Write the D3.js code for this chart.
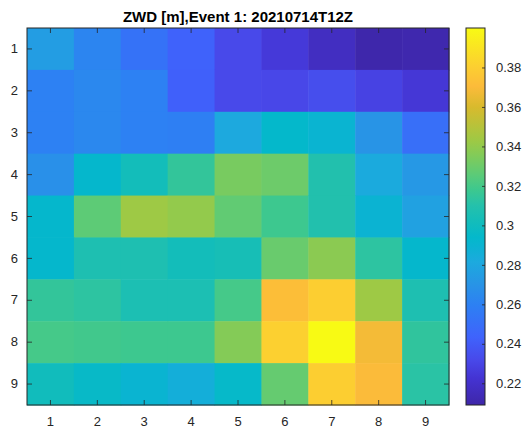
<!DOCTYPE html>
<html>
<head>
<meta charset="utf-8">
<script src="https://cdn.jsdelivr.net/npm/d3@7"></script>
<style>
  body { margin: 0; background: #fff; }
  text { font-family: "Liberation Sans", Arial, sans-serif; }
</style>
</head>
<body>
<svg id="chart" width="529" height="429"></svg>
<script>
// grid labels
const cols = [1, 2, 3, 4, 5, 6, 7, 8, 9];
const rows = [1, 2, 3, 4, 5, 6, 7, 8, 9];

// ZWD values, one array per row (row 1 at top)
const row1 = [0.275, 0.262, 0.252, 0.243, 0.232, 0.225, 0.217, 0.210, 0.211];
const row2 = [0.260, 0.264, 0.260, 0.242, 0.232, 0.231, 0.234, 0.229, 0.224];
const row3 = [0.260, 0.264, 0.260, 0.259, 0.281, 0.294, 0.290, 0.270, 0.250];
const row4 = [0.268, 0.293, 0.302, 0.315, 0.333, 0.330, 0.309, 0.282, 0.272];
const row5 = [0.293, 0.326, 0.343, 0.340, 0.327, 0.318, 0.309, 0.289, 0.277];
const row6 = [0.293, 0.307, 0.307, 0.302, 0.304, 0.329, 0.338, 0.313, 0.293];
const row7 = [0.315, 0.313, 0.306, 0.306, 0.320, 0.372, 0.380, 0.343, 0.307];
const row8 = [0.320, 0.319, 0.318, 0.318, 0.336, 0.381, 0.400, 0.368, 0.314];
const row9 = [0.301, 0.296, 0.290, 0.285, 0.295, 0.328, 0.380, 0.370, 0.312];
const grid = [row1, row2, row3, row4, row5, row6, row7, row8, row9];

const cbTicks = [0.22, 0.24, 0.26, 0.28, 0.30, 0.32, 0.34, 0.36, 0.38];
const titleText = "ZWD [m],Event 1: 20210714T12Z";

// parula-like colormap, stops as fraction of the colour range
const cmapPos = [0, 0.07, 0.12, 0.18, 0.265, 0.32, 0.38, 0.42, 0.445, 0.49, 0.53, 0.57, 0.61, 0.665, 0.70, 0.79, 0.845, 0.90, 1];
const cmapHex = ["#3e26a8", "#4433d2", "#4849ea", "#3f63fc", "#2d80f3", "#2894e6", "#1caade", "#0bb3d2", "#04b8cb",
    "#14bdb9", "#25c1ab", "#3cc88f", "#5bcb78", "#84cb57", "#9dc945", "#d8ba2d", "#fcbb3a", "#fcd030", "#f8fa14"];

const cmin = 0.209, cmax = 0.400;
const tv = d3.scaleLinear().domain([0, 1]).range([cmin, cmax]);
const color = d3.scaleLinear()
    .domain(cmapPos.map(tv))
    .range(cmapHex)
    .interpolate(d3.interpolateRgb)
    .clamp(true);

const svg = d3.select("#chart");
const margin = { left: 27, top: 28 };
const plotW = 449 - 27, plotH = 405 - 28;

const x = d3.scaleBand().domain(cols).range([0, plotW]);
const y = d3.scaleBand().domain(rows).range([0, plotH]);

const g = svg.append("g").attr("transform", "translate(" + margin.left + "," + margin.top + ")");

// cells
grid.forEach((vals, ri) => {
    g.selectAll(".r" + ri)
        .data(vals)
        .enter()
        .append("rect")
        .attr("x", (d, i) => x(cols[i]))
        .attr("y", y(rows[ri]))
        .attr("width", x.bandwidth() + 0.5)
        .attr("height", y.bandwidth() + 0.5)
        .attr("fill", d => color(d));
});

// axes, ticks inward like matlab
const axColor = "#262626";
function styleAxis(sel) {
    sel.select(".domain").remove();
    sel.selectAll(".tick line").attr("stroke", axColor).attr("stroke-width", 0.8);
    sel.selectAll(".tick text").attr("fill", axColor).style("font-size", "13px");
}
g.append("g").attr("transform", "translate(0," + plotH + ")")
    .call(d3.axisBottom(x).tickSizeInner(-5).tickSizeOuter(0).tickPadding(12))
    .call(styleAxis);
g.append("g")
    .call(d3.axisTop(x).tickSizeInner(-5).tickSizeOuter(0).tickFormat(""))
    .call(styleAxis);
g.append("g")
    .call(d3.axisLeft(y).tickSizeInner(-5).tickSizeOuter(0).tickPadding(9))
    .call(styleAxis);
g.append("g").attr("transform", "translate(" + plotW + ",0)")
    .call(d3.axisRight(y).tickSizeInner(-5).tickSizeOuter(0).tickFormat(""))
    .call(styleAxis);
g.append("rect")
    .attr("width", plotW).attr("height", plotH)
    .attr("fill", "none").attr("stroke", axColor).attr("stroke-width", 1);

// title
svg.append("text")
    .attr("x", margin.left + plotW / 2)
    .attr("y", 21.5)
    .attr("text-anchor", "middle")
    .style("font-size", "15px")
    .style("font-weight", "bold")
    .attr("fill", "#000")
    .text(titleText);

// colorbar
const cbX = 466, cbW = 19;
const cy = d3.scaleLinear().domain([cmin, cmax]).range([margin.top + plotH, margin.top]);
const grad = svg.append("defs").append("linearGradient")
    .attr("id", "cbgrad").attr("x1", 0).attr("y1", 1).attr("x2", 0).attr("y2", 0);
cmapPos.forEach((p, i) => {
    grad.append("stop").attr("offset", p).attr("stop-color", cmapHex[i]);
});
svg.append("rect")
    .attr("x", cbX).attr("y", margin.top)
    .attr("width", cbW).attr("height", plotH)
    .attr("fill", "url(#cbgrad)");
svg.append("g").attr("transform", "translate(" + (cbX + cbW) + ",0)")
    .call(d3.axisRight(cy).tickValues(cbTicks).tickSizeInner(-3).tickSizeOuter(0).tickPadding(11)
        .tickFormat(d3.format("~g")))
    .call(styleAxis);
svg.append("rect")
    .attr("x", cbX).attr("y", margin.top)
    .attr("width", cbW).attr("height", plotH)
    .attr("fill", "none").attr("stroke", axColor).attr("stroke-width", 1);
</script>
</body>
</html>
